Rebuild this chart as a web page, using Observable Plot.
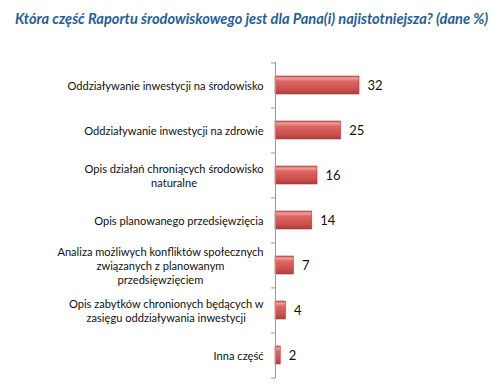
<!DOCTYPE html>
<html><head><meta charset="utf-8">
<script src="https://cdn.jsdelivr.net/npm/d3@7"></script>
<script src="https://cdn.jsdelivr.net/npm/@observablehq/plot@0.6"></script>
<style>
body{margin:0;background:#fff;width:500px;height:388px;overflow:hidden}
#title{font-family:Lato,sans-serif;font-weight:bold;font-style:italic;font-size:14.6px;color:#1F5E9E;padding-left:15px;height:34px;box-sizing:border-box;padding-top:10px;line-height:18px;white-space:nowrap}
</style></head><body>
<div id="title">Która część Raportu środowiskowego jest dla Pana(i) najistotniejsza? (dane %)</div>
<div id="chart"></div>
<script>
const categories = ["A","B","C","D","E","F","G"];
const labels = [
  "Oddziaływanie inwestycji na środowisko",
  "Oddziaływanie inwestycji na zdrowie",
  "Opis działań chroniących środowisko\nnaturalne",
  "Opis planowanego przedsięwzięcia",
  "Analiza możliwych konfliktów społecznych\nzwiązanych z planowanym\nprzedsięwzięciem",
  "Opis zabytków chronionych będących w\nzasięgu oddziaływania inwestycji",
  "Inna część"
];
const values = [32, 25, 16, 14, 7, 4, 2];
const data = categories.map((c, i) => ({category: c, value: values[i]}));

const H = 354, MT = 28, MB = 10;
const step = (H - MT - MB) / categories.length;

const svg = Plot.plot({
  width: 500, height: H,
  marginLeft: 275, marginRight: 141, marginTop: MT, marginBottom: MB,
  x: {domain: [0, 32], axis: null},
  y: {domain: categories, paddingInner: 0.6, paddingOuter: 0.3, axis: null},
  style: {fontFamily: "Lato, sans-serif", fontSize: "12px", background: "#fff", color: "#111"},
  marks: [
    Plot.barX(data, {x: "value", y: "category", fill: "url(#barGrad)", stroke: "#A83C39", strokeWidth: 0.6}),
    Plot.text(data, {x: "value", y: "category", text: d => String(d.value), textAnchor: "start", dx: 8, fontSize: 13, fill: "#111"}),
    Plot.axisY({tickSize: 0, tickPadding: 12, label: null, tickFormat: d => labels[categories.indexOf(d)], fontSize: 11.1, lineHeight: 1.26, fill: "#111"}),
    Plot.ruleY(categories, {y: d => d, dy: -step / 2, x1: -1.5, x2: 0, stroke: "#999"}),
    Plot.ruleY(categories.slice(-1), {y: d => d, dy: step / 2, x1: -1.5, x2: 0, stroke: "#999"}),
    Plot.ruleX([0], {stroke: "#999"})
  ]
});

const defs = d3.select(svg).insert("defs", ":first-child");
const grad = defs.append("linearGradient").attr("id", "barGrad").attr("x1", 0).attr("y1", 0).attr("x2", 0).attr("y2", 1);
[["0%", "#C65451"], ["12%", "#EE9E9B"], ["30%", "#DD6663"], ["75%", "#CC4E4B"], ["100%", "#A5403D"]]
  .forEach(([o, c]) => grad.append("stop").attr("offset", o).attr("stop-color", c));

document.getElementById("chart").appendChild(svg);

// Center lines of multi-line labels within a right-aligned block
d3.select(svg).selectAll('g[aria-label="y-axis tick label"] text').each(function() {
  const tspans = this.querySelectorAll("tspan");
  if (tspans.length < 2) return;
  let maxW = 0;
  tspans.forEach(t => { maxW = Math.max(maxW, t.getComputedTextLength()); });
  this.setAttribute("text-anchor", "middle");
  tspans.forEach(t => t.setAttribute("x", -maxW / 2));
});
</script>
</body></html>
